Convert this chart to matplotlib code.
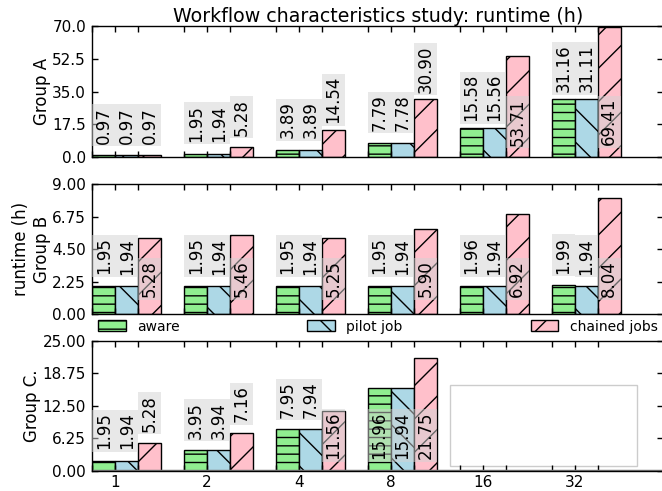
import matplotlib
matplotlib.use("Agg")
import matplotlib.pyplot as plt
from matplotlib.patches import Rectangle
from matplotlib.ticker import FixedLocator, FormatStrFormatter
import numpy as np

# number of cores per run
categories = ["1", "2", "4", "8", "16", "32"]

a_aware = [0.97, 1.95, 3.89, 7.79, 15.58, 31.16]
a_pilot = [0.97, 1.94, 3.89, 7.78, 15.56, 31.11]
a_chained = [0.97, 5.28, 14.54, 30.90, 53.71, 69.41]

b_aware = [1.95, 1.95, 1.95, 1.95, 1.96, 1.99]
b_pilot = [1.94, 1.94, 1.94, 1.94, 1.94, 1.94]
b_chained = [5.28, 5.46, 5.25, 5.90, 6.92, 8.04]

c_aware = [1.95, 3.95, 7.95, 15.96]
c_pilot = [1.94, 3.94, 7.94, 15.94]
c_chained = [5.28, 7.16, 11.56, 21.75]

series_names = ["aware", "pilot job", "chained jobs"]
ylims = [70.0, 9.0, 25.0]
ylabels = ["Group A", "runtime (h)\nGroup B", "Group C."]
yfmts = ["%.1f", "%.2f", "%.2f"]

colors = ["lightgreen", "lightblue", "pink"]
hatches = ["--", "\\", "/"]
width = 0.25

plt.rcParams["font.family"] = "DejaVu Sans"
plt.rcParams["hatch.linewidth"] = 1.0

W, H = 662.0, 491.0
fig = plt.figure(figsize=(6.62, 4.91), dpi=100)
left = 92.3 / W
axw = (663.0 - 92.3) / W
tops = [25.7, 184.0, 340.7]
bottoms = [157.3, 314.0, 470.7]

groups = [(a_aware, a_pilot, a_chained),
          (b_aware, b_pilot, b_chained),
          (c_aware, c_pilot, c_chained)]

axes = []
for k in range(3):
    ax = fig.add_axes([left, 1 - bottoms[k] / H, axw, (bottoms[k] - tops[k]) / H])
    axes.append(ax)
    ymax = ylims[k]
    for s in range(3):
        vals = groups[k][s]
        ind = np.arange(len(vals))
        bars = ax.bar(ind + s * width, vals, width, align="edge",
                      color=colors[s], edgecolor="black", linewidth=1,
                      hatch=hatches[s], label=series_names[s])
        for rect, v in zip(bars, vals):
            xc = rect.get_x() + rect.get_width() / 2.0
            # tall bars get their label inside, the others above
            if v > 0.45 * ymax:
                y = 0.27 * ymax
            else:
                y = v + 0.23 * ymax
            ax.text(xc, y, "%.2f" % v, rotation=90, ha="center", va="center",
                    fontsize=12,
                    bbox=dict(boxstyle="square,pad=0.15", facecolor="lightgray",
                              alpha=0.5, edgecolor="none"))

    ind = np.arange(len(categories))
    ax.set_xlim(0, (663.0 - 92.3) / 91.9)
    ax.set_ylim(0, ymax)
    ax.xaxis.set_major_locator(FixedLocator(ind + width))
    ax.xaxis.set_minor_locator(FixedLocator(np.concatenate([ind, ind + 2 * width])))
    ax.set_yticks(np.linspace(0, ymax, 5))
    ax.yaxis.set_major_formatter(FormatStrFormatter(yfmts[k]))
    ax.tick_params(which="both", direction="in", top=True, right=True,
                   length=4, width=1, labelsize=11, pad=4.5)
    ax.tick_params(axis="x", pad=3)
    if k == 2:
        ax.set_xticklabels(categories)
    else:
        ax.set_xticklabels([])
    ax.set_ylabel(ylabels[k], fontsize=12, labelpad=1)
    for sp in ax.spines.values():
        sp.set_linewidth(1)

axes[0].set_title("Workflow characteristics study: runtime (h)", fontsize=13.7, pad=1)

# legend between group B and group C
axes[1].legend(loc="upper left", bbox_to_anchor=(0.0, 0.0, 1.0, 0.0), ncol=3,
               mode="expand", frameon=False, fontsize=10, borderaxespad=0.0,
               handlelength=2.0, handleheight=0.8)

# empty box and baseline in group C
axes[2].axhline(0, color="gray", linewidth=2.5)
axes[2].add_patch(Rectangle((0.627, 0.033), 0.327, 0.627, transform=axes[2].transAxes,
                            facecolor="white", edgecolor="0.8", linewidth=1))

fig.savefig("out.png", dpi=100)
